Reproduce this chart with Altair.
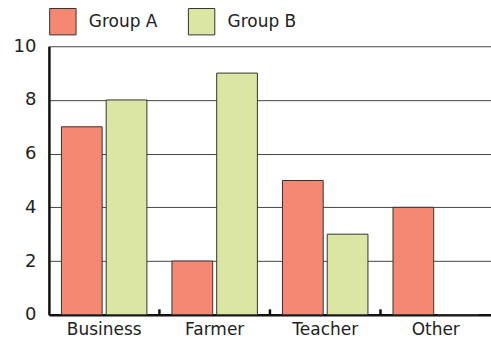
import altair as alt
import pandas as pd

# Occupation counts for two groups
categories = ["Business", "Farmer", "Teacher", "Other"]
group_a = [7, 2, 5, 4]
group_b = [8, 9, 3, 0]
groups = ["Group A", "Group B"]
colors = ["#F58872", "#DCE6A4"]
y_ticks = [0, 2, 4, 6, 8, 10]

rows = []
for i, c in enumerate(categories):
    rows.append({"category": c, "group": groups[0], "value": group_a[i]})
    rows.append({"category": c, "group": groups[1], "value": group_b[i]})
df = pd.DataFrame(rows)

FONT = "DejaVu Sans"

x_enc = alt.X(
    "category:N",
    sort=categories,
    scale=alt.Scale(paddingInner=0, paddingOuter=0),
    axis=alt.Axis(
        title=None, labelAngle=0, labelFontSize=17, labelColor="#222",
        labelFont=FONT, labelPadding=7, ticks=False, domain=True,
        domainColor="#111", domainWidth=2.5, grid=False,
    ),
)

bars = alt.Chart(df).mark_bar(stroke="#333", strokeWidth=1).encode(
    x=x_enc,
    xOffset=alt.XOffset(
        "group:N", sort=groups,
        scale=alt.Scale(paddingInner=0.09, paddingOuter=0.28),
    ),
    y=alt.Y(
        "value:Q",
        scale=alt.Scale(domain=[0, 10], nice=False),
        axis=alt.Axis(
            title=None, values=y_ticks, labelFontSize=18, labelColor="#222",
            labelFont=FONT, labelPadding=13, ticks=False, domain=True,
            domainColor="#111", domainWidth=2.5, grid=True,
            gridColor="#444", gridWidth=1,
        ),
    ),
    color=alt.Color(
        "group:N", sort=groups,
        scale=alt.Scale(domain=groups, range=colors),
        legend=alt.Legend(
            title=None, orient="none", legendX=0, legendY=-39,
            direction="horizontal", symbolType="square", symbolSize=700,
            symbolStrokeColor="#333", symbolStrokeWidth=1,
            labelFontSize=17, labelFont=FONT, labelColor="#222",
            labelOffset=12, columnPadding=28,
        ),
    ),
)

# Small upward ticks at the boundaries between categories
tick_df = pd.DataFrame({"category": categories[1:], "y0": [0] * 3, "y1": [0.2] * 3})
ticks = alt.Chart(tick_df).mark_rule(color="#111", strokeWidth=2.5).encode(
    x=alt.X("category:N", sort=categories, bandPosition=0),
    y="y0:Q",
    y2="y1:Q",
)

chart = (
    alt.layer(bars, ticks)
    .properties(
        width=443, height=269,
        autosize=alt.AutoSizeParams(type="none"),
        padding={"left": 49, "top": 46, "right": 0, "bottom": 32},
    )
    .configure_view(stroke=None)
)

chart.save("out.html", embed_options={"renderer": "svg", "actions": False})
